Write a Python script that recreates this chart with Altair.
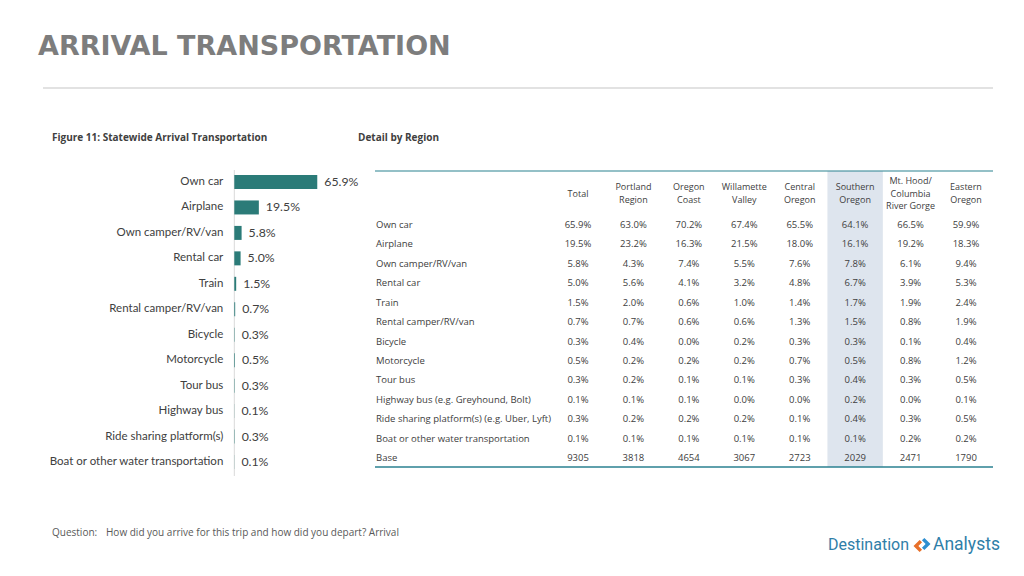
import altair as alt
import pandas as pd

# ---------------- data ----------------
bar_categories = ["Own car", "Airplane", "Own camper/RV/van", "Rental car", "Train",
                  "Rental camper/RV/van", "Bicycle", "Motorcycle", "Tour bus",
                  "Highway bus", "Ride sharing platform(s)",
                  "Boat or other water transportation"]
bar_values = [65.9, 19.5, 5.8, 5.0, 1.5, 0.7, 0.3, 0.5, 0.3, 0.1, 0.3, 0.1]

row_labels = ["Own car", "Airplane", "Own camper/RV/van", "Rental car", "Train",
              "Rental camper/RV/van", "Bicycle", "Motorcycle", "Tour bus",
              "Highway bus (e.g. Greyhound, Bolt)",
              "Ride sharing platform(s) (e.g. Uber, Lyft)",
              "Boat or other water transportation", "Base"]
columns = ["Total", "Portland Region", "Oregon Coast", "Willamette Valley",
           "Central Oregon", "Southern Oregon", "Mt. Hood/Columbia River Gorge",
           "Eastern Oregon"]
column_header_lines = [["Total"], ["Portland", "Region"], ["Oregon", "Coast"],
                       ["Willamette", "Valley"], ["Central", "Oregon"],
                       ["Southern", "Oregon"], ["Mt. Hood/", "Columbia", "River Gorge"],
                       ["Eastern", "Oregon"]]
highlight_column = "Southern Oregon"

total = [65.9, 19.5, 5.8, 5.0, 1.5, 0.7, 0.3, 0.5, 0.3, 0.1, 0.3, 0.1]
portland = [63.0, 23.2, 4.3, 5.6, 2.0, 0.7, 0.4, 0.2, 0.2, 0.1, 0.2, 0.1]
oregon_coast = [70.2, 16.3, 7.4, 4.1, 0.6, 0.6, 0.0, 0.2, 0.1, 0.1, 0.2, 0.1]
willamette = [67.4, 21.5, 5.5, 3.2, 1.0, 0.6, 0.2, 0.2, 0.1, 0.0, 0.2, 0.1]
central = [65.5, 18.0, 7.6, 4.8, 1.4, 1.3, 0.3, 0.7, 0.3, 0.0, 0.1, 0.1]
southern = [64.1, 16.1, 7.8, 6.7, 1.7, 1.5, 0.3, 0.5, 0.4, 0.2, 0.4, 0.1]
mt_hood = [66.5, 19.2, 6.1, 3.9, 1.9, 0.8, 0.1, 0.8, 0.3, 0.0, 0.3, 0.2]
eastern = [59.9, 18.3, 9.4, 5.3, 2.4, 1.9, 0.4, 1.2, 0.5, 0.1, 0.5, 0.2]
bases = [9305, 3818, 4654, 3067, 2723, 2029, 2471, 1790]

title_text = "ARRIVAL TRANSPORTATION"
figure_title = "Figure 11: Statewide Arrival Transportation"
detail_title = "Detail by Region"
question_label = "Question:"
question_text = "How did you arrive for this trip and how did you depart? Arrival"

# ---------------- tables ----------------
bars_df = pd.DataFrame({
    "category": bar_categories,
    "value": bar_values,
    "label": [f"{v:.1f}%" for v in bar_values],
})

series = [total, portland, oregon_coast, willamette, central, southern, mt_hood, eastern]
cells = []
for col, vals, base in zip(columns, series, bases):
    for r, v in zip(row_labels[:-1], vals):
        cells.append({"row": r, "col": col, "text": f"{v:.1f}%"})
    cells.append({"row": "Base", "col": col, "text": str(base)})
cells_df = pd.DataFrame(cells)
rows_df = pd.DataFrame({"row": row_labels})
header_rows = []
for col, lines in zip(columns, column_header_lines):
    n = len(lines)
    for i, line in enumerate(lines):
        header_rows.append({"col": col, "line": line, "pos": i - (n - 1) / 2})
header_df = pd.DataFrame(header_rows)
hl_df = pd.DataFrame({"col": [highlight_column]})
one = pd.DataFrame({"a": [0]})

FONT = "Lato"
TFONT = "Open Sans"
DARK = "#404040"
TEAL = "#2b7b78"

# ---------------- scales ----------------
bar_x = alt.Scale(domain=[0, 100], range=[226.3, 352.2])
bar_y = alt.Scale(type="point", domain=bar_categories, range=[174, 454], padding=0)
col_x = alt.Scale(type="band", domain=columns, range=[542.3, 985.7], paddingInner=0, paddingOuter=0)
row_y = alt.Scale(type="point", domain=row_labels, range=[217, 450], padding=0)
head_y = alt.Scale(domain=[-1, 1], range=[173, 198])

# ---------------- layers ----------------
title = alt.Chart(one).mark_text(text=title_text, font="DejaVu Sans", fontWeight="bold",
                                 fontSize=27, color="#7d7d7d", align="left", baseline="alphabetic").encode(
    x=alt.value(30), y=alt.value(47))
title_rule = alt.Chart(one).mark_rule(color="#d9d9d9", strokeWidth=1.5).encode(
    x=alt.value(35), x2=alt.value(985), y=alt.value(80))
fig_title = alt.Chart(one).mark_text(text=figure_title, font=TFONT, fontWeight="bold", fontSize=10,
                                     color=DARK, align="left", baseline="middle").encode(
    x=alt.value(44), y=alt.value(130))
det_title = alt.Chart(one).mark_text(text=detail_title, font=TFONT, fontWeight="bold", fontSize=10,
                                     color=DARK, align="left", baseline="middle").encode(
    x=alt.value(350), y=alt.value(130))

# bar chart
axis_line = alt.Chart(one).mark_rule(color="#d9d9d9", strokeWidth=1).encode(
    x=alt.XDatum(0, scale=bar_x, axis=None), y=alt.value(162), y2=alt.value(468))
bars = alt.Chart(bars_df).mark_bar(height=14, color=TEAL).encode(
    x=alt.X("value:Q", scale=bar_x, axis=None),
    y=alt.Y("category:N", scale=bar_y, axis=None))
bar_labels = alt.Chart(bars_df).mark_text(font=FONT, fontSize=12.3, color=DARK, align="left",
                                          baseline="middle", dx=7).encode(
    x=alt.X("value:Q", scale=bar_x, axis=None),
    y=alt.Y("category:N", scale=bar_y, axis=None),
    text="label:N")
cat_labels = alt.Chart(bars_df).mark_text(font=FONT, fontSize=11.5, color=DARK, align="right",
                                          baseline="middle", dx=-11).encode(
    x=alt.XDatum(0, scale=bar_x, axis=None),
    y=alt.Y("category:N", scale=bar_y, axis=None),
    text="category:N")

# table
shade = alt.Chart(hl_df).mark_rect(color="#dee5ee").encode(
    x=alt.X("col:N", scale=col_x, axis=None), y=alt.value(163), y2=alt.value(459))
top_rule = alt.Chart(one).mark_rule(color="#2a8190", strokeWidth=1.2).encode(
    x=alt.value(367), x2=alt.value(985), y=alt.value(163))
bottom_rule = alt.Chart(one).mark_rule(color="#2a8190", strokeWidth=1.6).encode(
    x=alt.value(367), x2=alt.value(985), y=alt.value(459))
headers = alt.Chart(header_df).mark_text(font=TFONT, fontSize=9, color=DARK, align="center",
                                         baseline="middle").encode(
    x=alt.X("col:N", scale=col_x, axis=None, bandPosition=0.5),
    y=alt.Y("pos:Q", scale=head_y, axis=None),
    text="line:N")
row_text = alt.Chart(rows_df).mark_text(font=TFONT, fontSize=9.5, color=DARK, align="left",
                                        baseline="middle").encode(
    x=alt.value(368),
    y=alt.Y("row:N", scale=row_y, axis=None),
    text="row:N")
cell_text = alt.Chart(cells_df).mark_text(font=TFONT, fontSize=9.5, color=DARK, align="center",
                                          baseline="middle").encode(
    x=alt.X("col:N", scale=col_x, axis=None, bandPosition=0.5),
    y=alt.Y("row:N", scale=row_y, axis=None),
    text="text:N")

# footer
q_label = alt.Chart(one).mark_text(text=question_label, font=TFONT, fontSize=10, color="#595959",
                                   align="left", baseline="middle").encode(
    x=alt.value(44), y=alt.value(525))
q_text = alt.Chart(one).mark_text(text=question_text, font=TFONT, fontSize=10, color="#595959",
                                  align="left", baseline="middle").encode(
    x=alt.value(98), y=alt.value(525))

# logo
logo_left = alt.Chart(one).mark_text(text="Destination", font="Roboto", fontSize=16,
                                     color="#2f7ea8", align="left", baseline="middle").encode(
    x=alt.value(820), y=alt.value(537))
logo_right = alt.Chart(one).mark_text(text="Analysts", font="Roboto", fontSize=17.5,
                                      color="#2f7ea8", align="left", baseline="middle").encode(
    x=alt.value(925), y=alt.value(537))
logo_orange = alt.Chart(one).mark_point(
    shape="M0.1,-1 L-0.9,0 L0.1,1 L0.5,0.6 L-0.1,0 L0.5,-0.6 Z",
    filled=True, color="#e8702a", size=150, opacity=1).encode(
    x=alt.value(911), y=alt.value(538))
logo_blue = alt.Chart(one).mark_point(
    shape="M-0.1,-1 L0.9,0 L-0.1,1 L-0.5,0.6 L0.1,0 L-0.5,-0.6 Z",
    filled=True, color="#2f8fd0", size=150, opacity=1).encode(
    x=alt.value(917), y=alt.value(536))

chart = alt.layer(
    title, title_rule, fig_title, det_title,
    axis_line, bars, bar_labels, cat_labels,
    shade, top_rule, bottom_rule, headers, row_text, cell_text,
    q_label, q_text, logo_left, logo_right, logo_orange, logo_blue,
).resolve_scale(x="independent", y="independent").properties(
    width=1008, height=560, padding=0, autosize="none", background="white"
).configure_view(stroke=None)

chart.save("out.html", embed_options={"renderer": "svg", "actions": False})
